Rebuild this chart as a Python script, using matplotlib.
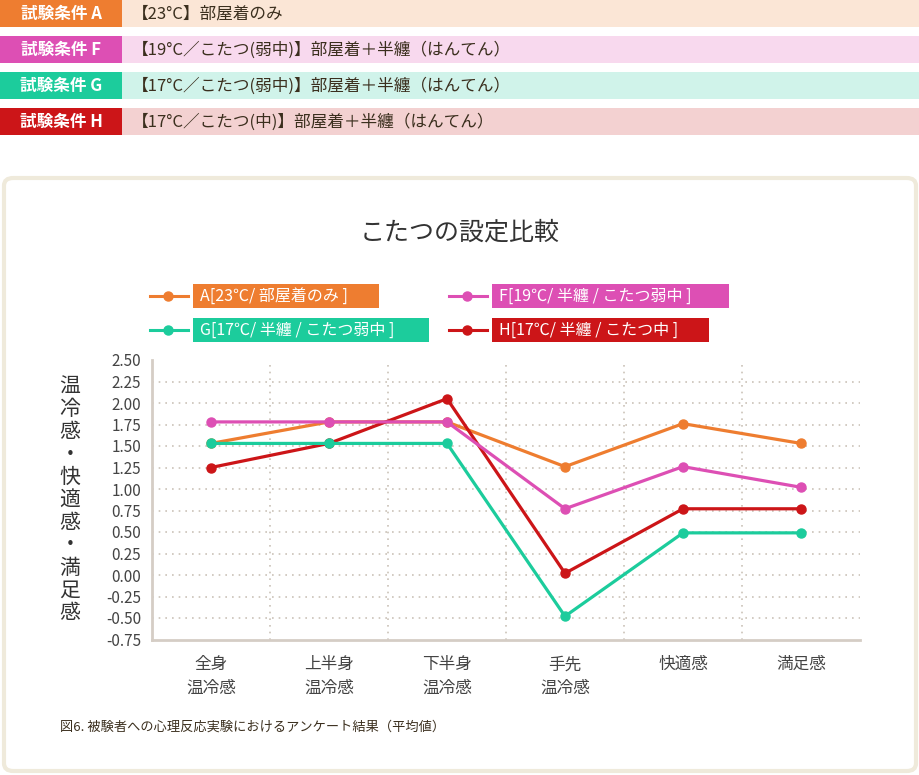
import matplotlib
matplotlib.use('Agg')
import matplotlib.pyplot as plt
from matplotlib.patches import Rectangle, FancyBboxPatch
from matplotlib.lines import Line2D

plt.rcParams['font.family'] = ['Noto Sans CJK JP', 'DejaVu Sans']

W, H = 920, 775

# data
categories = ['全身\n温冷感', '上半身\n温冷感', '下半身\n温冷感', '手先\n温冷感', '快適感', '満足感']
vals_A = [1.53, 1.78, 1.78, 1.26, 1.76, 1.53]
vals_F = [1.78, 1.78, 1.78, 0.77, 1.26, 1.02]
vals_G = [1.53, 1.53, 1.53, -0.48, 0.49, 0.49]
vals_H = [1.25, 1.53, 2.05, 0.02, 0.77, 0.77]

yticks = [2.50, 2.25, 2.00, 1.75, 1.50, 1.25, 1.00, 0.75, 0.50, 0.25, 0.00, -0.25, -0.50, -0.75]

cond_labels = ['試験条件 A', '試験条件 F', '試験条件 G', '試験条件 H']
cond_texts = ['【23°C】部屋着のみ',
              '【19°C／こたつ(弱中)】部屋着＋半纏（はんてん）',
              '【17°C／こたつ(弱中)】部屋着＋半纏（はんてん）',
              '【17°C／こたつ(中)】部屋着＋半纏（はんてん）']
legend_labels = ['A[23℃/ 部屋着のみ ]', 'F[19℃/ 半纏 / こたつ弱中 ]',
                 'G[17℃/ 半纏 / こたつ弱中 ]', 'H[17℃/ 半纏 / こたつ中 ]']

c_A = '#ee7d30'
c_F = '#dd4fb4'
c_G = '#1ccc9c'
c_H = '#cc1518'
colors = [c_A, c_F, c_G, c_H]
band_bg = ['#fbe6d6', '#f8d9ee', '#d0f3ea', '#f3d1d1']


def fx(x):
    return x / W


def fy(y):
    return 1 - y / H


fig = plt.figure(figsize=(W / 100, H / 100), dpi=100)

# header bands
for i in range(4):
    top = i * 36
    fig.add_artist(Rectangle((fx(122), fy(top + 27)), fx(W - 122), 27 / H,
                             facecolor=band_bg[i], edgecolor='none'))
    fig.add_artist(Rectangle((0, fy(top + 27)), fx(122), 27 / H,
                             facecolor=colors[i], edgecolor='none'))
    fig.text(fx(61), fy(top + 14), cond_labels[i], color='white', fontsize=12,
             fontweight='bold', ha='center', va='center')
    fig.text(fx(132), fy(top + 14), cond_texts[i], color='#3b2f1e', fontsize=12,
             ha='left', va='center')

# outer rounded box
fig.add_artist(FancyBboxPatch((fx(4), fy(771)), fx(912), 593 / H,
                              boxstyle='round,pad=0,rounding_size=0.01',
                              facecolor='white', edgecolor='#efeadb', lw=3,
                              zorder=-10))

fig.text(fx(460), fy(233), 'こたつの設定比較', fontsize=18, color='#333333',
         ha='center', va='center')

# legend (manual)
leg_pos = [(150, 296), (449, 296), (150, 330), (449, 330)]
box_w = [186, 237, 236, 217]
for i, (lx, ly) in enumerate(leg_pos):
    fig.add_artist(Line2D([fx(lx), fx(lx + 38)], [fy(ly), fy(ly)], color=colors[i],
                          lw=2.2, marker=None))
    fig.add_artist(Line2D([fx(lx + 18)], [fy(ly)], color=colors[i], marker='o',
                          markersize=6.5, lw=0))
    fig.add_artist(Rectangle((fx(lx + 43), fy(ly + 12)), fx(box_w[i]), 24 / H,
                             facecolor=colors[i], edgecolor='none'))
    fig.text(fx(lx + 50), fy(ly), legend_labels[i], color='white', fontsize=11.5,
             ha='left', va='center')

ax = fig.add_axes([fx(152), fy(639.5), fx(860 - 152), 279.5 / H])
ax.set_zorder(5)
x = list(range(len(categories)))
for vals, c in [(vals_A, c_A), (vals_H, c_H), (vals_F, c_F), (vals_G, c_G)]:
    ax.plot(x, vals, color=c, lw=2.3, marker='o', markersize=6.5, zorder=3)

ax.set_xlim(-0.5, 5.5)
ax.set_ylim(-0.75, 2.5)
ax.set_yticks(yticks)
ax.set_yticklabels([f'{v:.2f}' for v in yticks], fontsize=11, color='#444444')
ax.set_xticks(x)
ax.set_xticklabels(categories, fontsize=12, color='#444444', linespacing=1.5)
ax.tick_params(length=0, pad=8)
ax.tick_params(axis='x', pad=12)

for v in yticks[1:-1]:
    ax.axhline(v, color='#cbc2b8', lw=1.2, ls=(0, (1, 3)), zorder=1)
for v in [0.5, 1.5, 2.5, 3.5, 4.5]:
    ax.axvline(v, color='#cbc2b8', lw=1.2, ls=(0, (1, 3)), zorder=1)

for s in ['top', 'right']:
    ax.spines[s].set_visible(False)
for s in ['left', 'bottom']:
    ax.spines[s].set_color('#d5cdc5')
    ax.spines[s].set_linewidth(2)

ylab = '温冷感・快適感・満足感'
fig.text(fx(70), fy(500), '\n'.join(ylab), fontsize=15, color='#333333',
         ha='center', va='center', linespacing=1.04)

fig.text(fx(60), fy(727), '図6. 被験者への心理反応実験におけるアンケート結果（平均値）',
         fontsize=9.5, color='#3b2f1e', ha='left', va='center')

fig.savefig('out.png', dpi=100)
